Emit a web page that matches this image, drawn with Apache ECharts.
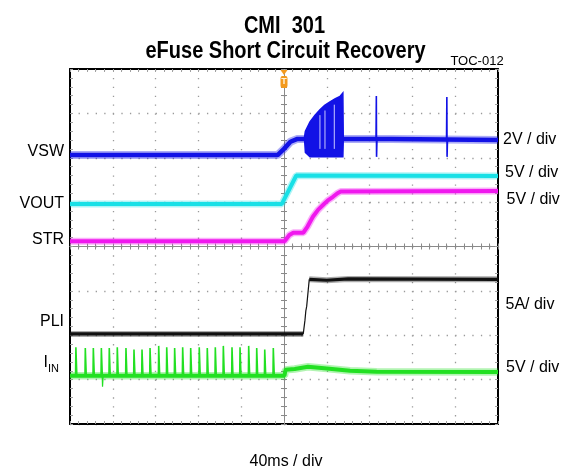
<!DOCTYPE html>
<html><head><meta charset="utf-8">
<script src="https://cdn.jsdelivr.net/npm/echarts@6/dist/echarts.min.js"></script>
<style>html,body{margin:0;padding:0;background:#fff}#c{width:570px;height:473px}</style>
</head><body><div id="c"></div>
<script>
// Time in ms (40 ms/div, trigger at 0); amplitude in screen divisions (0 = bottom, 8 = top)
const xTicks = [-200, -160, -120, -80, -40, 0, 40, 80, 120, 160, 200];

// VSW (blue)
const vswT = [-200, -6, 0, 6, 12, 19.2, null, 55.4, 100, 200];
const vswV = [6.06, 6.06, 6.2, 6.36, 6.42, 6.42, null, 6.42, 6.42, 6.40];
const vswSpikeT = [86.3, 152.2];
const vswSpikeHigh = [7.39, 7.37];
const vswSpikeLow = [6.02, 6.02];
const burstT = [19.2, 20, 24.3, 29, 33.6, 38, 43, 48, 52.3, 55.0, 55.4];
const burstLow = [6.42, 6.12, 6.02, 6.02, 6.02, 6.02, 6.02, 6.02, 6.02, 6.02, 6.42];
const burstHigh = [6.47, 6.6, 6.81, 6.96, 7.08, 7.18, 7.26, 7.33, 7.38, 7.46, 6.42];
const burstGapT = [33.6, 38.3, 47.0];

// VOUT (cyan)
const voutT = [-200, -2, 11.5, 200];
const voutV = [4.96, 4.96, 5.60, 5.59];

// STR (magenta)
const strT = [-200, 0.5, 5, 8.7, 18, 22, 27, 32, 36.7, 41, 45.8, 50, 53, 200];
const strV = [4.12, 4.12, 4.26, 4.31, 4.31, 4.45, 4.67, 4.83, 4.94, 5.04, 5.12, 5.20, 5.24, 5.25];

// PLI (black)
const pliT = [-200, 18.0, null, 23.6, 40, 60, 200];
const pliV = [2.03, 2.03, null, 3.26, 3.24, 3.27, 3.26];
const pliRiseT = [18.0, 19.6, 20.4, 21.2, 23.6];
const pliRiseV = [2.03, 2.34, 2.55, 2.65, 3.26];

// IIN (green)
const iinT = [-200, 0.4, 1.5, 10, 22.4, 40, 61.7, 86.6, 200];
const iinV = [1.09, 1.09, 1.22, 1.24, 1.29, 1.25, 1.20, 1.18, 1.17];
const iinSpikeBase = 1.09;
const iinSpikeT = [-194.5, -185.7, -178.2, -170.7, -163.3, -155.8, -147.7, -140.2, -132.7, -125.2,
  -117.1, -109.6, -102.2, -94.7, -87.2, -79.2, -71.7, -64.2, -56.7, -48.6, -41.1, -33.0, -25.5, -18.0, -10.0];
const iinSpikePeak = [1.73, 1.71, 1.71, 1.71, 1.71, 1.73, 1.71, 1.68, 1.68, 1.71,
  1.76, 1.73, 1.71, 1.73, 1.71, 1.73, 1.71, 1.73, 1.76, 1.73, 1.73, 1.76, 1.71, 1.68, 1.71];
const iinDipT = [-169.6];
const iinDipV = [0.84];

const C = { vsw: '#1212e6', vout: '#18e0e6', str: '#f018ee', pli: '#111111', iin: '#22e022', trig: '#f39a1e' };

function pairs(T, V) { return T.map((t, i) => [t, V[i] == null ? null : V[i]]); }
function spikes(T, base, peak, w1, w2) {
  const out = [];
  T.forEach((t, i) => {
    out.push([t - w1, base], [t, peak[i]], [t + w2, base], [t + w2, null]);
  });
  return out;
}
function vswSpikeData() {
  const out = [];
  vswSpikeT.forEach((t, i) => {
    out.push([t - 0.3, 6.42], [t, vswSpikeHigh[i]], [t + 0.2, vswSpikeLow[i]], [t + 0.6, 6.42], [t + 0.6, null]);
  });
  return out;
}

const chart = echarts.init(document.getElementById('c'), null, { renderer: 'canvas' });

const frameTick = { show: true, inside: true, length: 3, lineStyle: { color: '#a0a0a0', width: 1 } };
const frameMinor = { show: true, splitNumber: 5, length: 3, lineStyle: { color: '#a0a0a0', width: 1 } };
const frameLine = { show: true, onZero: false, lineStyle: { color: '#000', width: 2 } };
const noLabel = { show: false };

function xAx(extra) {
  return Object.assign({ type: 'value', min: xTicks[0], max: xTicks[xTicks.length - 1], interval: 40,
    axisLabel: noLabel, splitLine: { show: false } }, extra);
}
function yAx(extra) {
  return Object.assign({ type: 'value', min: 0, max: 8, interval: 1,
    axisLabel: noLabel, splitLine: { show: false } }, extra);
}

const lineBase = { type: 'line', showSymbol: false, symbol: 'none', animation: false, silent: true, connectNulls: false, xAxisIndex: 0, yAxisIndex: 0 };

// a noisy trace: faint wide fringe + solid core
function trace(name, data, color, core, fringe) {
  return [
    Object.assign({}, lineBase, { name: name + ' fringe', data: data, lineStyle: { color: color, width: fringe, opacity: 0.35 } }),
    Object.assign({}, lineBase, { name: name, data: data, lineStyle: { color: color, width: core } })
  ];
}

const series = [].concat(
  trace('IIN', pairs(iinT, iinV), C.iin, 4, 7.5),
  [Object.assign({}, lineBase, { name: 'IIN spikes', data: spikes(iinSpikeT, iinSpikeBase, iinSpikePeak, 0.3, 0.9), lineStyle: { color: C.iin, width: 1.6 } }),
   Object.assign({}, lineBase, { name: 'IIN dip', data: spikes(iinDipT, iinSpikeBase, iinDipV, 0.3, 0.6), lineStyle: { color: C.iin, width: 1.2 } })],
  trace('PLI', pairs(pliT, pliV), C.pli, 3.2, 6),
  [Object.assign({}, lineBase, { name: 'PLI rise', data: pairs(pliRiseT, pliRiseV), lineStyle: { color: C.pli, width: 1.2 } })],
  trace('STR', pairs(strT, strV), C.str, 4, 7),
  trace('VOUT', pairs(voutT, voutV), C.vout, 4, 7),
  trace('VSW', pairs(vswT, vswV), C.vsw, 4.5, 8),
  [Object.assign({}, lineBase, { name: 'VSW spikes', data: vswSpikeData(), lineStyle: { color: C.vsw, width: 1.6 } }),
  {
    type: 'custom', name: 'VSW burst', silent: true, animation: false, xAxisIndex: 0, yAxisIndex: 0,
    data: burstT.map((t, i) => [t, burstLow[i], burstHigh[i]]),
    encode: { x: 0, y: [1, 2] },
    renderItem: function (params, api) {
      if (params.dataIndex !== 0) return null;
      const pts = [];
      for (let i = 0; i < burstT.length; i++) pts.push(api.coord([burstT[i], burstHigh[i]]));
      for (let i = burstT.length - 1; i >= 0; i--) pts.push(api.coord([burstT[i], burstLow[i]]));
      const children = [{ type: 'polygon', shape: { points: pts }, style: { fill: C.vsw, stroke: C.vsw, lineWidth: 1.5 } }];
      burstGapT.forEach(function (g) {
        let hi = 6.4;
        for (let i = 1; i < burstT.length; i++) {
          if (burstT[i] >= g) {
            const f = (g - burstT[i - 1]) / (burstT[i] - burstT[i - 1]);
            hi = burstHigh[i - 1] + f * (burstHigh[i] - burstHigh[i - 1]);
            break;
          }
        }
        const a = api.coord([g, 6.2]);
        const b = api.coord([g, hi - 0.12]);
        children.push({ type: 'line', shape: { x1: a[0], y1: a[1], x2: b[0], y2: b[1] }, style: { stroke: '#c8c8ff', lineWidth: 1 } });
      });
      return { type: 'group', children: children };
    }
  },
  Object.assign({}, lineBase, { name: 'trigger', data: [], lineStyle: { width: 0 },
    markPoint: { silent: true, animation: false, data: [
      { coord: [0, 8], symbol: 'path://M0,0L10,0L5,7Z', symbolSize: [7, 5], symbolOffset: [0, 3.5],
        itemStyle: { color: C.trig }, label: { show: false } },
      { coord: [0, 8], symbol: 'roundRect', symbolSize: [7, 12], symbolOffset: [0, 13],
        itemStyle: { color: C.trig }, label: { show: true, position: 'inside', formatter: 'T', color: '#fff3dc', fontSize: 9, fontWeight: 'bold', fontFamily: 'Liberation Sans' } }
    ] } })]
);

const font16 = '16px "Liberation Sans", Arial, sans-serif';
function txt(x, y, text, align, font, extra) {
  return Object.assign({ type: 'text', x: x, y: y, style: { text: text, font: font || font16, fill: '#000', align: align, verticalAlign: 'middle' } }, extra || {});
}

const option = {
  animation: false,
  backgroundColor: '#fff',
  grid: { left: 70, right: 72, top: 69, bottom: 49, containLabel: false },
  xAxis: [
    xAx({ position: 'bottom', axisLine: frameLine, axisTick: frameTick, minorTick: frameMinor,
      splitLine: { show: true, lineStyle: { color: '#9a9a9a', width: 1.3, type: [1.3, 7.575] } } }),
    xAx({ position: 'top', axisLine: frameLine, axisTick: frameTick, minorTick: frameMinor }),
    xAx({ position: 'bottom', axisLine: { show: true, onZero: true, onZeroAxisIndex: 2, lineStyle: { color: '#8a8a8a', width: 1 } },
      axisTick: { show: true, inside: true, length: 3, lineStyle: { color: '#8a8a8a' } },
      minorTick: { show: true, splitNumber: 5, length: 3, lineStyle: { color: '#8a8a8a' } } }),
    xAx({ position: 'bottom', axisLine: { show: true, onZero: true, onZeroAxisIndex: 2, lineStyle: { color: '#8a8a8a', width: 1 } },
      axisTick: { show: true, inside: false, length: 3, lineStyle: { color: '#8a8a8a' } },
      minorTick: { show: true, splitNumber: 5, length: 3, lineStyle: { color: '#8a8a8a' } } })
  ],
  yAxis: [
    yAx({ position: 'left', axisLine: frameLine, axisTick: frameTick, minorTick: frameMinor,
      splitLine: { show: true, lineStyle: { color: '#9a9a9a', width: 1.3, type: [1.3, 7.26] } } }),
    yAx({ position: 'right', axisLine: frameLine, axisTick: frameTick, minorTick: frameMinor }),
    { type: 'value', min: -4, max: 4, interval: 1, position: 'left', axisLine: { show: false, onZero: false },
      axisTick: { show: false }, axisLabel: noLabel, splitLine: { show: false } },
    yAx({ position: 'left', axisLine: { show: true, onZero: true, onZeroAxisIndex: 0, lineStyle: { color: '#8a8a8a', width: 1 } },
      axisTick: { show: true, inside: true, length: 3, lineStyle: { color: '#8a8a8a' } },
      minorTick: { show: true, splitNumber: 5, length: 3, lineStyle: { color: '#8a8a8a' } } }),
    yAx({ position: 'left', axisLine: { show: true, onZero: true, onZeroAxisIndex: 0, lineStyle: { color: '#8a8a8a', width: 1 } },
      axisTick: { show: true, inside: false, length: 3, lineStyle: { color: '#8a8a8a' } },
      minorTick: { show: true, splitNumber: 5, length: 3, lineStyle: { color: '#8a8a8a' } } })
  ],
  series: series,
  graphic: [
    txt(284.5, 26.5, 'CMI  301', 'center', 'bold 20px "Liberation Sans", Arial, sans-serif', { scaleY: 1.15 }),
    txt(285.5, 51.5, 'eFuse Short Circuit Recovery', 'center', 'bold 20px "Liberation Sans", Arial, sans-serif', { scaleY: 1.15 }),
    txt(477, 61, 'TOC-012', 'center', '13px "Liberation Sans", Arial, sans-serif'),
    txt(64, 152, 'VSW', 'right'),
    txt(64, 204, 'VOUT', 'right'),
    txt(64, 240, 'STR', 'right'),
    txt(64, 322, 'PLI', 'right'),
    txt(43.5, 363, 'I', 'left'),
    txt(48, 369, 'IN', 'left', '11px "Liberation Sans", Arial, sans-serif'),
    txt(503, 139.5, '2V / div', 'left'),
    txt(505, 173, '5V / div', 'left'),
    txt(506.5, 200, '5V / div', 'left'),
    txt(505.5, 304.5, '5A/ div', 'left'),
    txt(506, 368, '5V / div', 'left'),
    txt(286, 462, '40ms / div', 'center')
  ]
};
chart.setOption(option);
</script>
</body></html>
